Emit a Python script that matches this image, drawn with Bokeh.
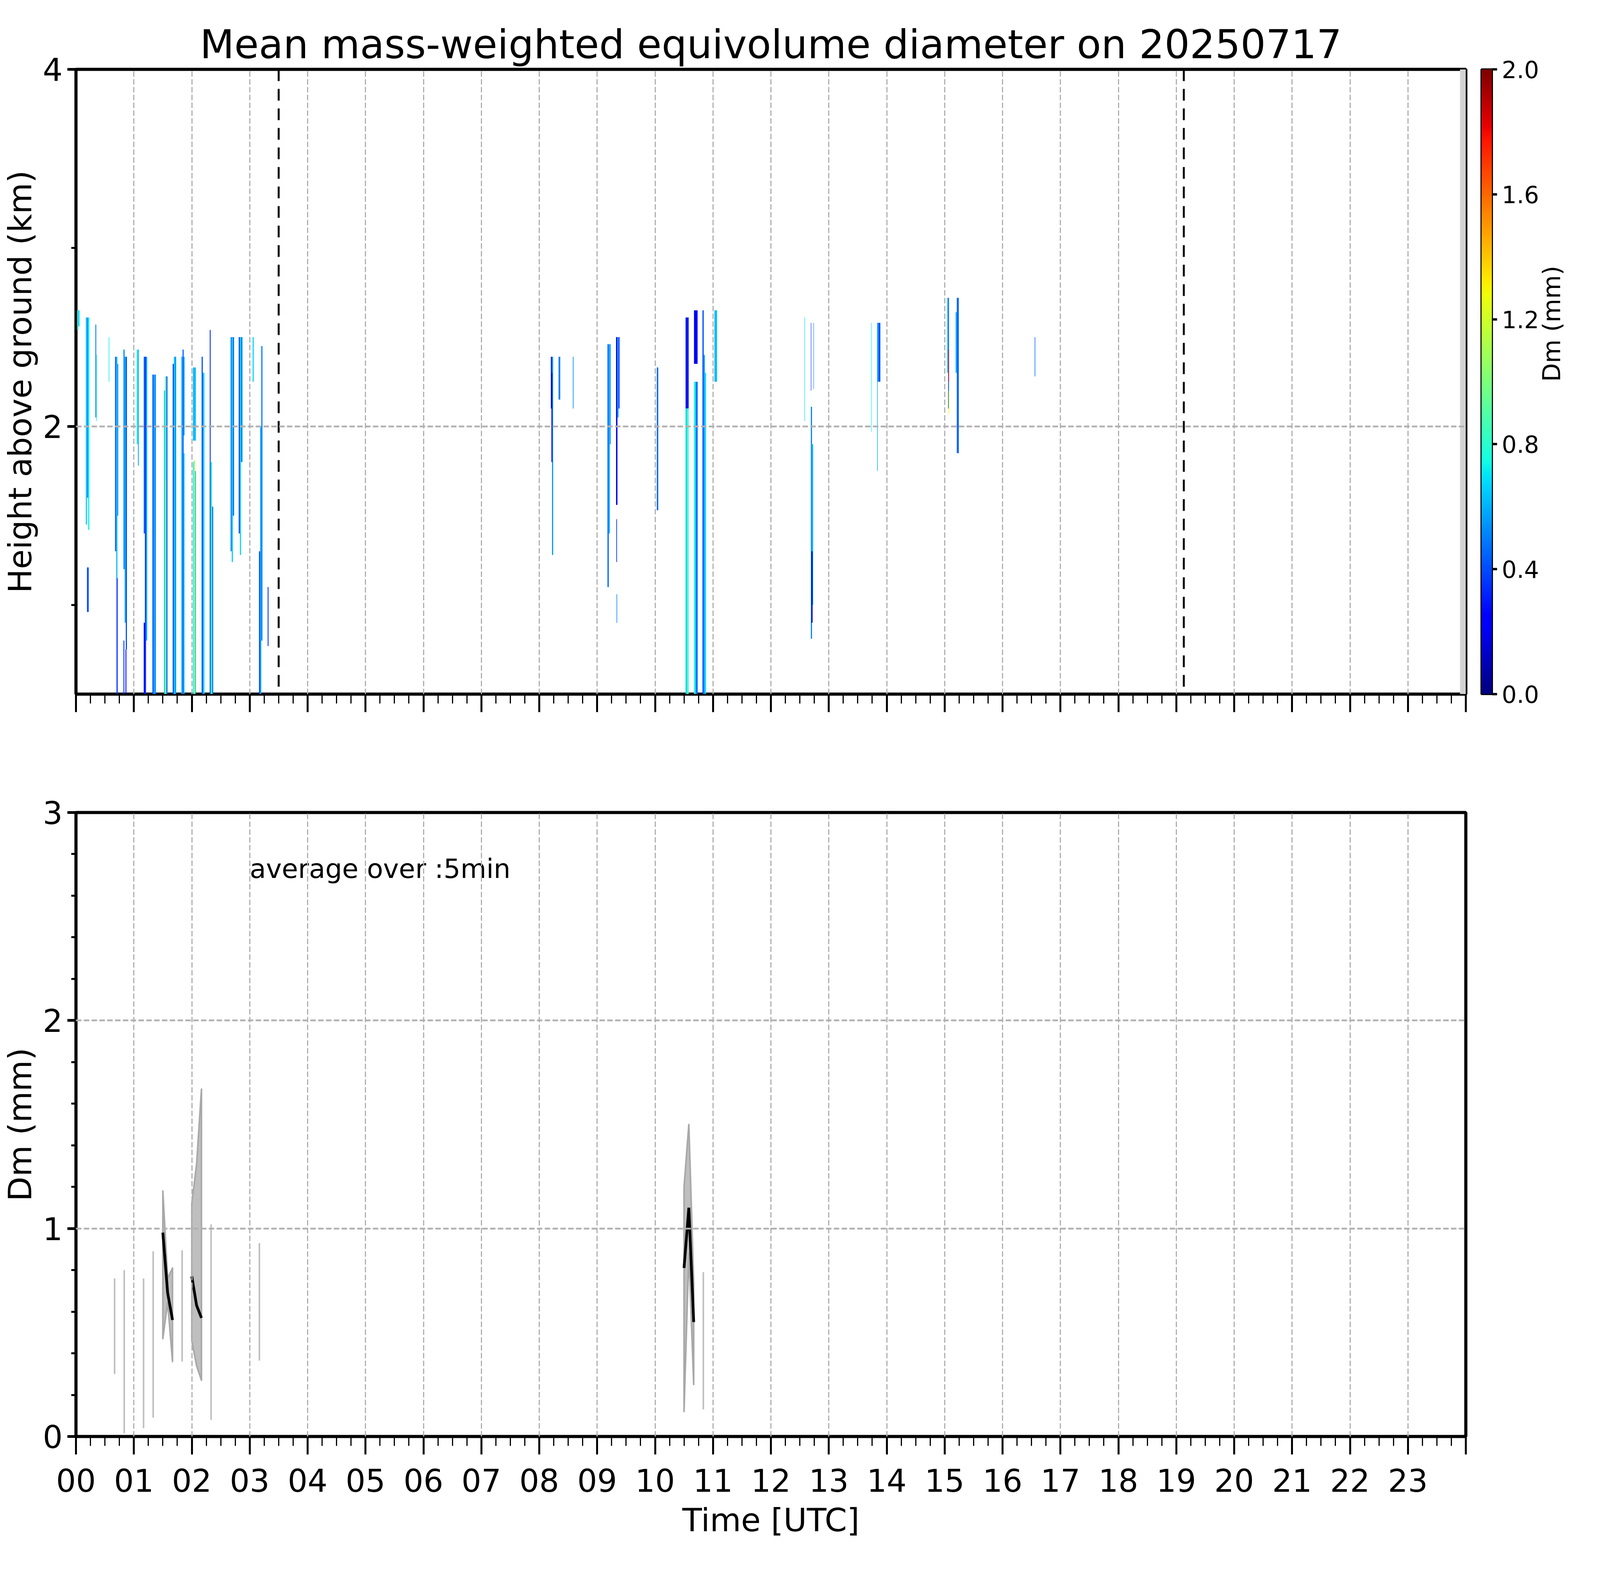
import math
import numpy as np
from bokeh.plotting import figure
from bokeh.models import (Range1d, FixedTicker, LinearColorMapper, ColumnDataSource,
                          Span, Label, PrintfTickFormatter, CustomJSTickFormatter)
from bokeh.layouts import column, row
from bokeh.embed import file_html
from bokeh.resources import INLINE

# ---------------- data ----------------
title_text = "Mean mass-weighted equivolume diameter on 20250717"
hour_ticks = list(range(25))
hour_labels = ["%02d" % h for h in range(24)] + [""]

# time-height cells of Dm (hours, km, mm)
seg_t0 = [0.02, 0.04, 0.17, 0.19, 0.21, 0.19, 0.335, 0.35, 0.565, 0.675,
          0.695, 0.715, 0.70, 0.82, 0.84, 0.86, 0.82, 0.855, 1.05, 1.07,
          1.17, 1.19, 1.21, 1.17, 1.32, 1.34, 1.36, 1.52, 1.54, 1.54,
          1.56, 1.67, 1.69, 1.71, 1.82, 1.84, 1.86, 1.86, 2.02, 2.035,
          2.055, 2.02, 2.17, 2.19, 2.205, 2.31, 2.325, 2.35, 2.67, 2.69,
          2.71, 2.81, 2.83, 2.85, 3.05, 3.16, 3.18, 3.20, 3.31, 8.20,
          8.22, 8.21, 8.333, 8.58, 9.178, 9.20, 9.22, 9.326, 9.35, 9.37,
          9.33, 9.335, 10.03, 10.527, 10.545, 10.527, 10.55, 10.672, 10.672, 10.695,
          10.715, 10.818, 10.84, 10.86, 11.025, 12.69, 12.735, 12.69, 12.71, 12.70,
          12.58, 13.73, 13.835, 13.86, 13.835, 15.046, 15.06, 15.065, 15.07, 15.19,
          15.21, 16.555]
seg_t1 = [0.04, 0.06, 0.19, 0.21, 0.23, 0.22, 0.35, 0.36, 0.575, 0.695,
          0.715, 0.73, 0.72, 0.84, 0.86, 0.88, 0.835, 0.87, 1.07, 1.085,
          1.19, 1.21, 1.23, 1.19, 1.34, 1.36, 1.38, 1.54, 1.56, 1.56,
          1.58, 1.69, 1.71, 1.73, 1.84, 1.86, 1.875, 1.875, 2.035, 2.055,
          2.07, 2.07, 2.19, 2.205, 2.22, 2.325, 2.35, 2.37, 2.69, 2.71,
          2.73, 2.83, 2.85, 2.875, 3.07, 3.18, 3.20, 3.22, 3.325, 8.22,
          8.24, 8.225, 8.363, 8.592, 9.20, 9.22, 9.233, 9.35, 9.37, 9.386,
          9.342, 9.345, 10.055, 10.545, 10.58, 10.55, 10.58, 10.734, 10.695, 10.715,
          10.734, 10.84, 10.86, 10.88, 11.07, 12.697, 12.742, 12.71, 12.73, 12.72,
          12.588, 13.738, 13.86, 13.89, 13.845, 15.06, 15.075, 15.075, 15.08, 15.21,
          15.245, 16.565]
seg_h0 = [2.54, 2.56, 1.45, 1.60, 1.42, 0.96, 2.05, 2.03, 2.25, 1.30,
          1.15, 1.50, 0.50, 1.20, 0.90, 0.75, 0.50, 0.50, 1.90, 1.78,
          1.40, 0.50, 0.80, 0.50, 0.50, 0.50, 0.50, 0.50, 1.70, 0.50,
          0.50, 0.50, 0.50, 0.50, 0.50, 0.50, 0.50, 1.95, 0.50, 0.50,
          0.50, 1.92, 0.50, 0.50, 0.50, 0.50, 0.50, 0.50, 1.30, 1.24,
          1.50, 1.40, 1.28, 1.80, 2.25, 0.50, 0.50, 0.80, 0.77, 2.10,
          1.28, 1.80, 2.15, 2.10, 1.10, 1.40, 1.90, 1.56, 2.05, 2.10,
          1.24, 0.90, 1.53, 2.10, 2.10, 0.50, 0.50, 2.35, 0.50, 0.50,
          0.50, 0.50, 0.50, 0.50, 2.25, 2.20, 2.21, 0.81, 1.00, 0.90,
          2.03, 1.97, 2.25, 2.25, 1.75, 2.30, 2.10, 2.25, 2.07, 2.30,
          1.85, 2.28]
seg_h1 = [2.65, 2.65, 2.61, 2.61, 2.61, 1.21, 2.57, 2.40, 2.50, 2.39,
          2.39, 2.35, 1.15, 2.43, 2.39, 2.39, 0.80, 0.75, 2.43, 2.43,
          2.39, 2.39, 2.39, 0.90, 2.29, 2.29, 2.29, 2.20, 2.28, 1.70,
          2.28, 2.35, 2.39, 2.39, 2.39, 2.43, 1.85, 2.39, 1.80, 1.81,
          1.75, 2.33, 2.39, 2.30, 2.30, 2.54, 1.80, 1.55, 2.50, 2.50,
          2.50, 2.50, 2.50, 2.50, 2.50, 1.30, 2.00, 2.45, 1.10, 2.39,
          2.39, 2.30, 2.39, 2.39, 2.46, 2.46, 2.46, 2.50, 2.50, 2.50,
          1.48, 1.06, 2.33, 2.61, 2.61, 2.10, 2.10, 2.65, 2.25, 2.25,
          2.25, 2.65, 2.40, 2.30, 2.65, 2.58, 2.58, 2.11, 1.90, 1.30,
          2.61, 2.58, 2.58, 2.58, 2.25, 2.72, 2.72, 2.43, 2.20, 2.64,
          2.72, 2.50]
seg_dm = [0.75, 0.65, 0.65, 0.50, 0.72, 0.40, 0.50, 0.72, 0.72, 0.40,
          0.62, 0.52, 0.35, 0.52, 0.60, 0.40, 0.35, 0.22, 0.72, 0.60,
          0.45, 0.35, 0.60, 0.22, 0.40, 0.60, 0.52, 0.65, 0.90, 1.05,
          0.45, 0.40, 0.65, 0.55, 0.60, 0.45, 0.65, 0.55, 0.72, 1.10,
          0.62, 0.62, 0.40, 0.55, 0.72, 0.35, 0.80, 0.50, 0.50, 0.65,
          0.45, 0.40, 0.68, 0.50, 0.68, 0.40, 0.58, 0.50, 0.35, 0.30,
          0.55, 0.15, 0.50, 0.55, 0.45, 0.60, 0.50, 0.20, 0.60, 0.30,
          0.35, 0.50, 0.45, 0.15, 0.30, 0.65, 0.85, 0.20, 0.75, 0.60,
          0.40, 0.40, 0.55, 0.68, 0.62, 0.30, 0.50, 0.50, 0.62, 0.15,
          0.68, 0.72, 0.55, 0.40, 0.60, 0.62, 0.45, 1.80, 1.30, 0.60,
          0.45, 0.45]

missing_t0 = [23.9]
missing_t1 = [24.0]
day_night_lines = [3.5, 19.13]

# 5-min averages of Dm (mm)
avg1_t = [1.5, 1.583, 1.667]
avg1_dm = [0.98, 0.69, 0.56]
avg1_hi = [1.18, 0.76, 0.81]
avg1_lo = [0.47, 0.645, 0.36]
avg2_t = [2.0, 2.083, 2.167]
avg2_dm = [0.77, 0.63, 0.57]
avg2_hi = [1.12, 1.31, 1.67]
avg2_lo = [0.46, 0.34, 0.27]
avg3_t = [10.5, 10.583, 10.667]
avg3_dm = [0.81, 1.10, 0.55]
avg3_hi = [1.20, 1.50, 0.74]
avg3_lo = [0.12, 0.88, 0.25]
single_t = [0.667, 0.833, 1.167, 1.333, 1.833, 2.333, 3.167, 10.833]
single_lo = [0.30, 0.015, 0.04, 0.09, 0.36, 0.08, 0.365, 0.13]
single_hi = [0.76, 0.80, 0.76, 0.89, 0.895, 1.02, 0.93, 0.79]

cbar_ticks = [0.0, 0.4, 0.8, 1.2, 1.6, 2.0]


# ---------------- colormap (matplotlib jet) ----------------
def jet_palette(n=256):
    x = np.linspace(0, 1, n)
    r = np.interp(x, [0, 0.35, 0.66, 0.89, 1], [0, 0, 1, 1, 0.5])
    g = np.interp(x, [0, 0.125, 0.375, 0.64, 0.91, 1], [0, 0, 1, 1, 0, 0])
    b = np.interp(x, [0, 0.11, 0.34, 0.65, 1], [0.5, 1, 1, 0, 0])
    return ["#%02x%02x%02x" % (int(round(R * 255)), int(round(G * 255)), int(round(B * 255)))
            for R, G, B in zip(r, g, b)]


mapper = LinearColorMapper(palette=jet_palette(), low=0.0, high=2.0)

FONT = "DejaVu Sans"
LEFT = 186
FRAME_W = 3566
RIGHT = 12
TOP_H = 1932
BOT_H = 2060
GRID_COLOR = "#b0b0b0"
TICK_FS = "80px"
LABEL_FS = "82px"


def style(p, ylabel, xlabel=None, show_xlabels=True):
    p.background_fill_color = "white"
    p.border_fill_color = "white"
    p.outline_line_color = "black"
    p.outline_line_width = 8
    p.xaxis.ticker = FixedTicker(ticks=hour_ticks, minor_ticks=[i * 0.25 for i in range(97)])
    if show_xlabels:
        p.xaxis.major_label_overrides = {h: lab for h, lab in zip(hour_ticks, hour_labels)}
    else:
        p.xaxis.formatter = CustomJSTickFormatter(code="return ''")
    for ax in (p.xaxis[0], p.yaxis[0]):
        ax.axis_line_color = None
        ax.major_tick_line_color = "black"
        ax.minor_tick_line_color = "black"
        ax.major_tick_in = 0
        ax.minor_tick_in = 0
        ax.major_label_text_font = FONT
        ax.major_label_text_font_size = TICK_FS
        ax.major_label_text_color = "black"
        ax.axis_label_text_font = FONT
        ax.axis_label_text_font_size = LABEL_FS
        ax.axis_label_text_font_style = "normal"
        ax.axis_label_text_color = "black"
    xa, ya = p.xaxis[0], p.yaxis[0]
    xa.major_tick_line_width = 5
    xa.major_tick_out = 46
    xa.minor_tick_line_width = 3
    xa.minor_tick_out = 24
    ya.major_tick_line_width = 7
    ya.major_tick_out = 22
    ya.minor_tick_line_width = 5
    ya.minor_tick_out = 12
    ya.axis_label = ylabel
    ya.major_label_standoff = 12
    ya.axis_label_standoff = 8
    xa.major_label_standoff = 36
    xa.axis_label_standoff = 22
    if xlabel:
        xa.axis_label = xlabel
    for g in (p.xgrid[0], p.ygrid[0]):
        g.grid_line_color = GRID_COLOR
        g.grid_line_dash = "14 6"
        g.level = "overlay"
    p.xgrid[0].grid_line_width = 3
    p.ygrid[0].grid_line_width = 4.5


x_range = Range1d(0, 24)

# ---------------- top panel ----------------
top = figure(width=LEFT + FRAME_W + RIGHT, height=TOP_H, x_range=x_range, y_range=Range1d(0.5, 4.0),
             output_backend="svg", toolbar_location=None,
             min_border_left=LEFT, min_border_right=RIGHT, min_border_top=177, min_border_bottom=156)
top.title.text = title_text
top.title.text_font = FONT
top.title.text_font_size = "102px"
top.title.text_font_style = "normal"
top.title.text_color = "black"
top.title.align = "center"
top.title.standoff = 10

src = ColumnDataSource(dict(t0=seg_t0, t1=seg_t1, h0=seg_h0, h1=seg_h1, dm=seg_dm))
top.quad(left="t0", right="t1", bottom="h0", top="h1", source=src,
         fill_color={"field": "dm", "transform": mapper}, line_color=None)
top.quad(left=missing_t0, right=missing_t1, bottom=[0.5], top=[4.0], fill_color="#d3d3d3", line_color=None)
for loc in day_night_lines:
    top.add_layout(Span(location=loc, dimension="height", line_color="black",
                        line_width=5, line_dash="30 20"))
style(top, "Height above ground (km)", show_xlabels=False)
top.yaxis.ticker = FixedTicker(ticks=[2, 4], minor_ticks=[1, 3])

# ---------------- colour bar ----------------
CB_LEFT = 28
CB_RIGHT = 196
cb = figure(width=CB_LEFT + 60 + CB_RIGHT, height=TOP_H, x_range=Range1d(0, 1), y_range=Range1d(0, 2),
            y_axis_location="right", output_backend="svg", toolbar_location=None,
            min_border_left=CB_LEFT, min_border_right=CB_RIGHT, min_border_top=177, min_border_bottom=156)
cb.image(image=[np.linspace(0, 2, 256).reshape(256, 1)], x=0, y=0, dw=1, dh=2, color_mapper=mapper)
cb.xaxis.visible = False
cb.grid.visible = False
cb.outline_line_color = "black"
cb.outline_line_width = 5
cb.background_fill_color = "white"
cb.border_fill_color = "white"
ya = cb.yaxis[0]
ya.ticker = FixedTicker(ticks=cbar_ticks, minor_ticks=[])
ya.formatter = PrintfTickFormatter(format="%.1f")
ya.axis_line_color = None
ya.major_tick_line_color = "black"
ya.major_tick_line_width = 6
ya.major_tick_out = 13
ya.major_tick_in = 0
ya.major_label_text_font = FONT
ya.major_label_text_font_size = "60px"
ya.major_label_text_color = "black"
ya.major_label_standoff = 12
ya.axis_label = "Dm (mm)"
ya.axis_label_text_font = FONT
ya.axis_label_text_font_size = "62px"
ya.axis_label_text_font_style = "normal"
ya.axis_label_text_color = "black"
ya.axis_label_standoff = 30
try:
    ya.axis_label_orientation = math.pi / 2
except Exception:
    pass

# ---------------- bottom panel ----------------
bot = figure(width=LEFT + FRAME_W + RIGHT, height=BOT_H, x_range=x_range, y_range=Range1d(0, 3),
             output_backend="svg", toolbar_location=None,
             min_border_left=LEFT, min_border_right=RIGHT, min_border_top=147, min_border_bottom=316)
bot.segment(x0=single_t, y0=single_lo, x1=single_t, y1=single_hi, line_color="#bfbfbf", line_width=4)
for t, lo, hi, dm in ((avg1_t, avg1_lo, avg1_hi, avg1_dm),
                      (avg2_t, avg2_lo, avg2_hi, avg2_dm),
                      (avg3_t, avg3_lo, avg3_hi, avg3_dm)):
    bot.patch(x=list(t) + list(t)[::-1], y=list(hi) + list(lo)[::-1],
              fill_color="#bfbfbf", line_color="#a8a8a8", line_width=4, line_join="round")
    bot.line(x=t, y=dm, line_color="black", line_width=7)
bot.add_layout(Label(x=3.0, y=2.73, text="average over :5min", text_font=FONT,
                     text_font_size="68px", text_baseline="alphabetic", text_color="black"))
style(bot, "Dm (mm)", xlabel="Time [UTC]")
bot.yaxis.ticker = FixedTicker(ticks=[0, 1, 2, 3], minor_ticks=[round(i * 0.2, 1) for i in range(16)])

layout = column(row(top, cb), bot)
open("out.html", "w").write(file_html(layout, INLINE))
